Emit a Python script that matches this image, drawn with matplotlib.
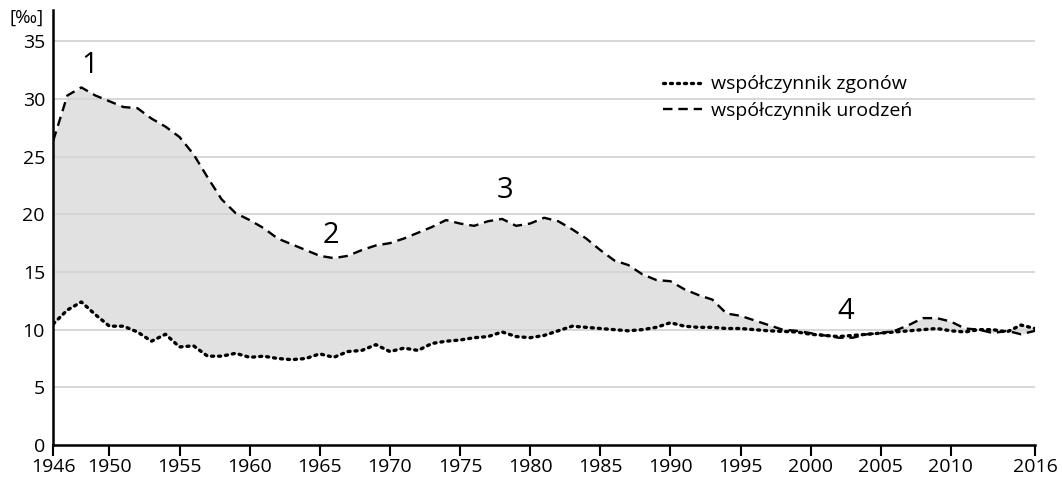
import matplotlib.pyplot as plt
import numpy as np

plt.rcParams['font.family'] = ['Open Sans', 'DejaVu Sans']

years = np.arange(1946, 2017)

# births per 1000 inhabitants
births = [26.4, 30.3, 31.0, 30.3, 29.8, 29.3, 29.2, 28.3, 27.6, 26.7,
          25.2, 23.2, 21.3, 20.1, 19.5, 18.8, 17.9, 17.4, 16.9, 16.4,
          16.2, 16.4, 16.9, 17.3, 17.5, 17.9, 18.4, 18.9, 19.5, 19.2,
          19.0, 19.4, 19.6, 19.0, 19.2, 19.7, 19.4, 18.7, 17.9, 16.9,
          16.0, 15.6, 14.8, 14.3, 14.2, 13.5, 13.0, 12.6, 11.4, 11.2,
          10.8, 10.4, 10.0, 9.9, 9.7, 9.5, 9.3, 9.3, 9.6, 9.7,
          9.9, 10.4, 11.0, 11.0, 10.7, 10.1, 10.0, 9.7, 9.9, 9.6,
          9.9]

# deaths per 1000 inhabitants
deaths = [10.5, 11.7, 12.4, 11.3, 10.3, 10.3, 9.8, 9.0, 9.6, 8.5,
          8.6, 7.7, 7.7, 7.95, 7.6, 7.7, 7.5, 7.4, 7.5, 7.9,
          7.6, 8.1, 8.2, 8.7, 8.1, 8.4, 8.2, 8.8, 9.0, 9.1,
          9.3, 9.4, 9.8, 9.4, 9.3, 9.5, 9.9, 10.3, 10.2, 10.1,
          10.0, 9.9, 10.0, 10.2, 10.6, 10.3, 10.2, 10.2, 10.1, 10.1,
          10.0, 9.9, 9.85, 9.8, 9.6, 9.5, 9.4, 9.5, 9.6, 9.7,
          9.8, 9.9, 10.0, 10.1, 9.9, 9.8, 10.0, 10.0, 9.8, 10.4,
          10.1]

xticks = [1946, 1950, 1955, 1960, 1965, 1970, 1975, 1980, 1985, 1990,
          1995, 2000, 2005, 2010, 2016]
yticks = [0, 5, 10, 15, 20, 25, 30, 35]

# period markers
marks = ['1', '2', '3', '4']
mark_x = [1948.6, 1965.8, 1978.2, 2002.5]
mark_y = [32.9, 18.2, 22.1, 11.6]

fig = plt.figure(figsize=(10.62, 4.8), dpi=100)
ax = fig.add_axes([0.0502, 0.0729, 0.9244, 0.906])

ax.fill_between(years, deaths, births, color='#e1e1e1', lw=0, zorder=1)
for y in yticks[1:]:
    ax.axhline(y, color='#d4d4d4', lw=1.3, zorder=2)

ax.plot(years, deaths, color='black', lw=2.4, linestyle=(0, (0.6, 1.5)),
        dash_capstyle='round', label='współczynnik zgonów', zorder=3)
ax.plot(years, births, color='black', lw=1.7, linestyle=(0, (4, 2.5)),
        label='współczynnik urodzeń', zorder=3)

for t, x, y in zip(marks, mark_x, mark_y):
    ax.text(x, y, t, fontsize=21, ha='center', va='center', zorder=4)

ax.set_xlim(1946, 2016)
ax.set_ylim(0, 37.7)
ax.set_xticks(xticks)
ax.set_yticks(yticks)
ax.tick_params(axis='x', direction='out', length=8, width=1.5,
               labelsize=14, pad=1)
ax.tick_params(axis='y', length=0, labelsize=14, pad=6)
for s in ['top', 'right']:
    ax.spines[s].set_visible(False)
for s in ['left', 'bottom']:
    ax.spines[s].set_linewidth(1.8)

fig.text(0.009, 0.963, '[‰]', fontsize=13.5, ha='left', va='center')

ax.legend(loc='upper left', bbox_to_anchor=(0.603, 0.89), frameon=False,
          fontsize=14, handlelength=2.0, handletextpad=0.5,
          labelspacing=0.45)

fig.savefig('out.png', dpi=100)
